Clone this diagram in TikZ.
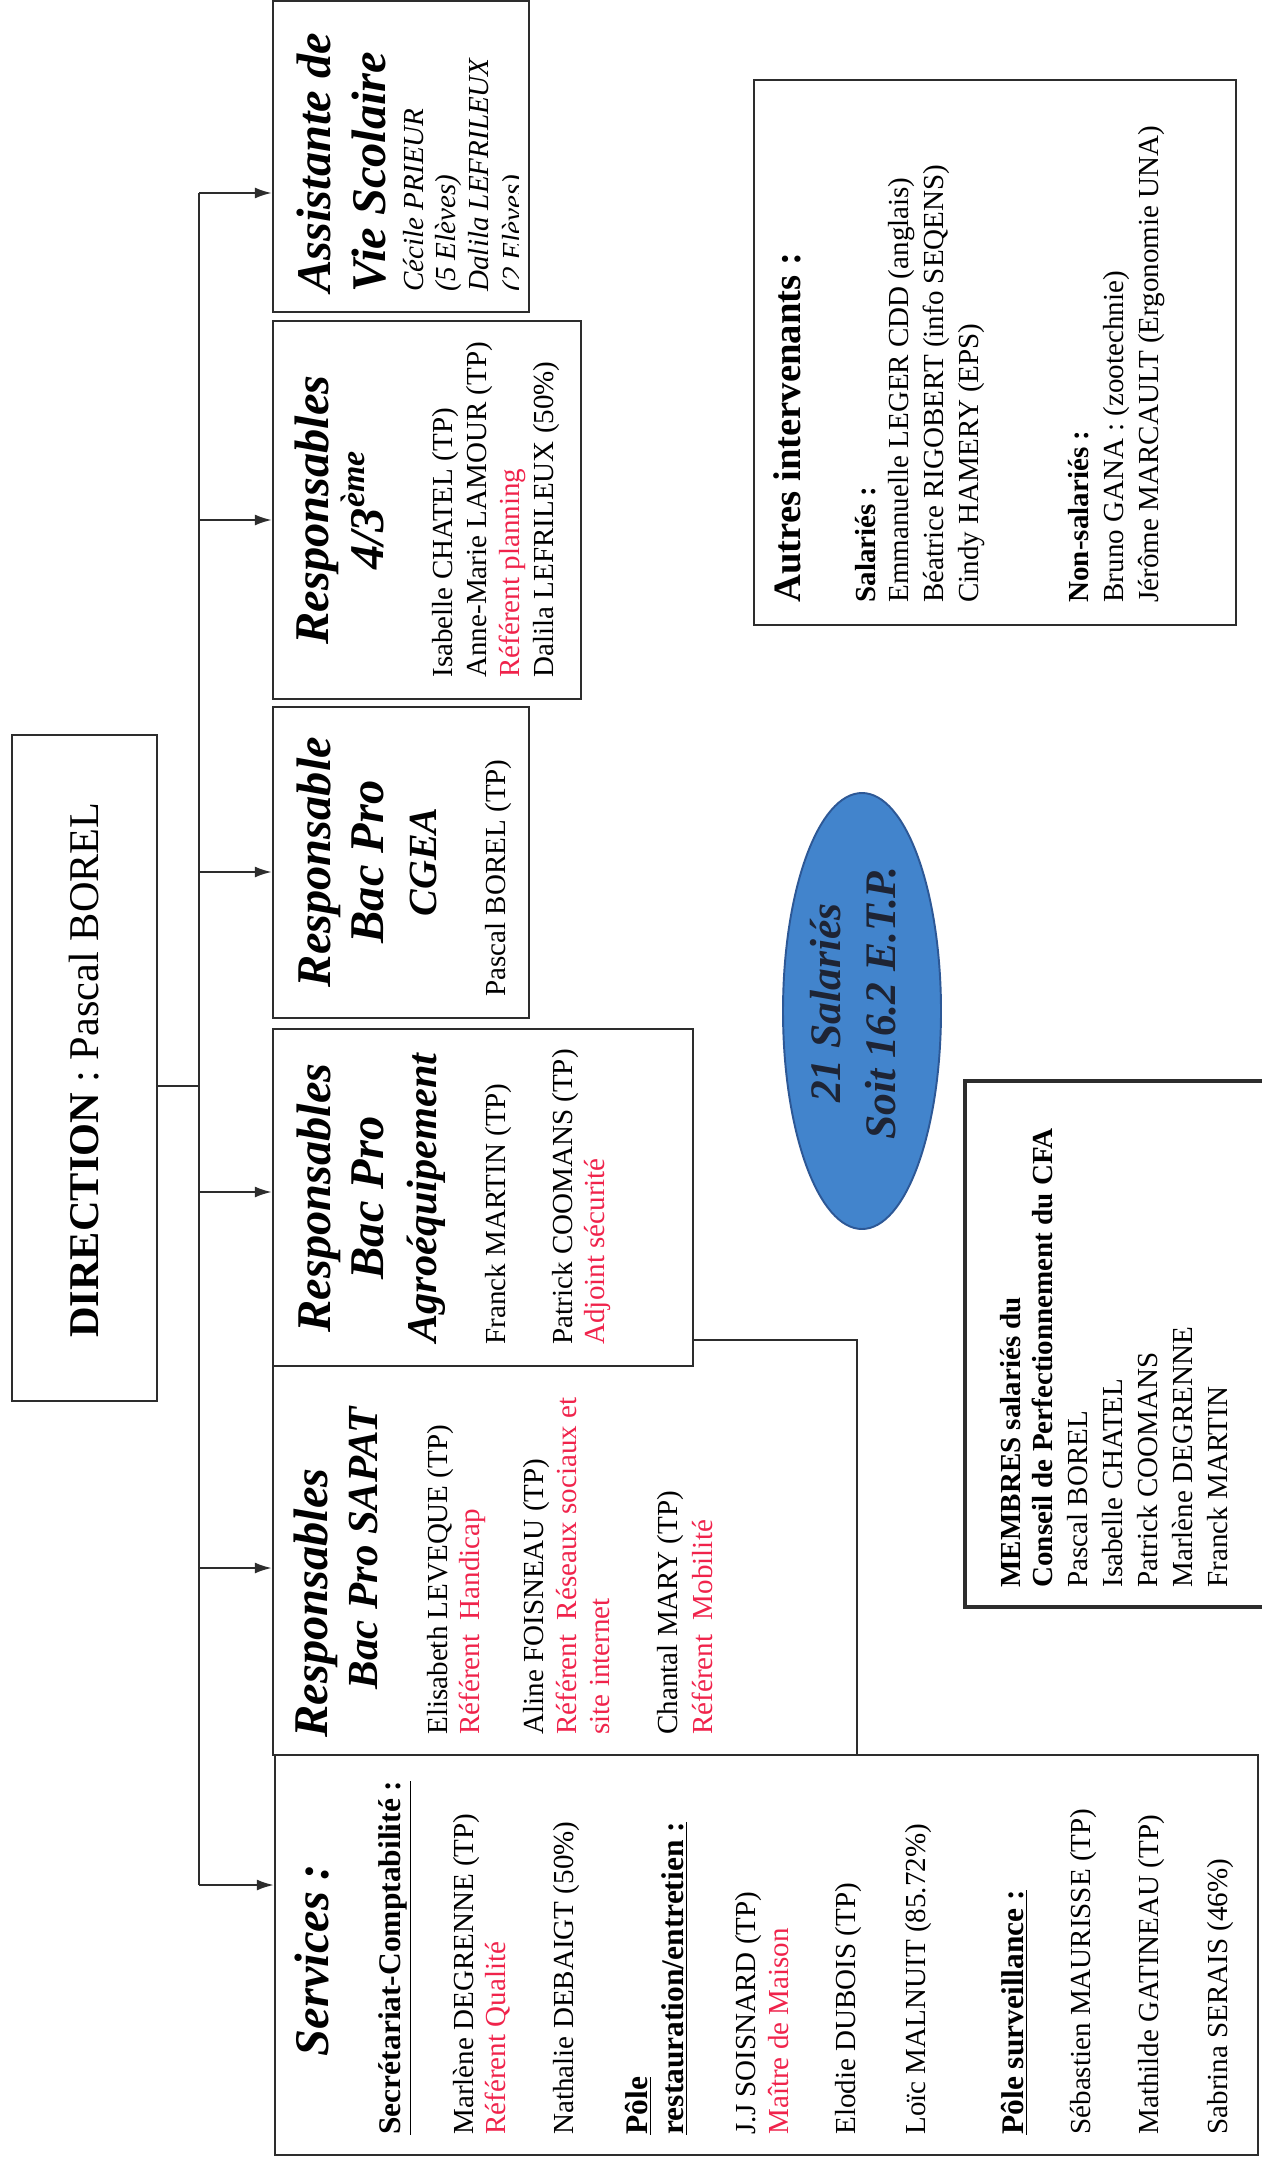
\documentclass[tikz,border=0pt]{standalone}
\usepackage{fontspec}
\setmainfont{Liberation Serif}
\usetikzlibrary{arrows.meta,shapes.geometric,fit}
\newlength\uu \setlength\uu{0.4132pt}
\definecolor{linec}{RGB}{45,45,45}
\definecolor{redt}{RGB}{240,35,75}
\definecolor{ellfill}{RGB}{66,132,204}
\definecolor{elldraw}{RGB}{45,88,150}
\definecolor{elltext}{RGB}{30,36,52}
\begin{document}
\begin{tikzpicture}[x=0.4132pt,y=-0.4132pt,
  box/.style={draw=linec, fill=white, line width=0.9pt, inner sep=0pt},
  thickbox/.style={draw=linec, fill=white, line width=1.8pt, inner sep=0pt},
  link/.style={draw=linec, line width=0.9pt},
  arr/.style={link, -{Latex[length=7pt,width=4.5pt]}},
  ln/.style={rotate=90, anchor=base west, inner sep=0pt, font=\fontsize{12}{14}\selectfont},
  lnc/.style={rotate=90, anchor=base, inner sep=0pt},
  ttl/.style={font=\bfseries\itshape\fontsize{20}{23}\selectfont},
  hd/.style={font=\bfseries\fontsize{13}{15}\selectfont},
  redtx/.style={text=redt},
]
\useasboundingbox (0,0) rectangle (1261,2166);
\fill[white] (0,0) rectangle (1261,2166);

% ---------- boxes ----------
\node[box, fit={(12,735) (157,1401)}] (dir) {};
\node[box, fit={(273,1) (529,312)}] (avs) {};
\node[box, fit={(273,321) (581,699)}] (qua) {};
\node[box, fit={(273,707) (529,1018)}] (cgea) {};
\node[box, fit={(273,1340) (857,1755)}] (sapat) {};
\node[box, fit={(273,1029) (693,1366)}] (agro) {};
\node[box, fit={(275,1755) (1258,2155)}] (serv) {};
\node[box, fit={(754,80) (1236,625)}] (autres) {};
\node[thickbox, fit={(965,1081) (1300,1607)}] (membres) {};
\node[ellipse, draw=elldraw, fill=ellfill, line width=0.8pt, inner sep=0pt,
      minimum width=158\uu, minimum height=436\uu] (ell) at (862,1011) {};

% ---------- connectors ----------
\coordinate (ja) at (199,193);
\coordinate (jb) at (199,520);
\coordinate (jc) at (199,872);
\coordinate (jd) at (199,1086);
\coordinate (je) at (199,1192);
\coordinate (jf) at (199,1568);
\coordinate (jg) at (199,1885);
\draw[link] (ja) -- (jg);
\draw[link] (jd -| dir.east) -- (jd);
\draw[arr] (ja) -- (ja -| avs.west);
\draw[arr] (jb) -- (jb -| qua.west);
\draw[arr] (jc) -- (jc -| cgea.west);
\draw[arr] (je) -- (je -| agro.west);
\draw[arr] (jf) -- (jf -| sapat.west);
\draw[arr] (jg) -- (jg -| serv.west);

% ---------- direction ----------
\node[lnc, font=\fontsize{17.5}{20}\selectfont] (dirt) at (98,1070) {\textbf{DIRECTION} : Pascal BOREL};

% ---------- AVS ----------
\begin{scope}
\clip (273,1) rectangle (518,312);
\node[ln,ttl] (avs1) at (330,293) {Assistante de};
\node[ln,ttl] (avs2) at (385,293) {Vie Scolaire};
\node[ln] (avs3) at (423,292) {\itshape Cécile PRIEUR};
\node[ln] (avs4) at (455,292) {\itshape (5 Elèves)};
\node[ln] (avs5) at (488,292) {\itshape Dalila LEFRILEUX};
\node[ln] (avs6) at (522,292) {\itshape (2 Elèves)};
\end{scope}

% ---------- 4/3 ----------
\node[lnc,ttl] (qua1) at (328,510) {Responsables};
\node[lnc,ttl] (qua2) at (383,510) {4/3\textsuperscript{ème}};
\node[ln] (qua3) at (452,678) {Isabelle CHATEL (TP)};
\node[ln] (qua4) at (486,678) {Anne-Marie LAMOUR (TP)};
\node[ln,redtx] (qua5) at (519,678) {Référent planning};
\node[ln] (qua6) at (553,678) {Dalila LEFRILEUX (50\%)};

% ---------- CGEA ----------
\node[lnc,ttl] (cg1) at (330,862) {Responsable};
\node[lnc,ttl] (cg2) at (383,862) {Bac Pro};
\node[lnc,ttl,font=\bfseries\itshape\fontsize{16.5}{20}\selectfont] (cg3) at (436,862) {CGEA};
\node[ln] (cg4) at (505,997) {Pascal BOREL (TP)};

% ---------- Agro ----------
\node[lnc,ttl] (ag1) at (330,1198) {Responsables};
\node[lnc,ttl] (ag2) at (383,1198) {Bac Pro};
\node[lnc,ttl,font=\bfseries\itshape\fontsize{17.5}{20}\selectfont] (ag3) at (436,1198) {Agroéquipement};
\node[ln] (ag4) at (505,1345) {Franck MARTIN (TP)};
\node[ln] (ag5) at (572,1345) {Patrick COOMANS (TP)};
\node[ln,redtx] (ag6) at (604,1345) {Adjoint sécurité};

% ---------- SAPAT ----------
\node[ln,ttl] (sa1) at (327,1738) {Responsables};
\node[ln,ttl,font=\bfseries\itshape\fontsize{17.7}{20}\selectfont] (sa2) at (377,1690) {Bac Pro SAPAT};
\node[ln] (sa3) at (447,1735) {Elisabeth LEVEQUE (TP)};
\node[ln,redtx] (sa4) at (479,1735) {Référent\ \ Handicap};
\node[ln] (sa5) at (543,1735) {Aline FOISNEAU (TP)};
\node[ln,redtx] (sa6) at (576,1735) {Référent\ \ Réseaux sociaux et};
\node[ln,redtx] (sa7) at (609,1735) {site internet};
\node[ln] (sa8) at (677,1735) {Chantal MARY (TP)};
\node[ln,redtx] (sa9) at (712,1735) {Référent\ \ Mobilité};

% ---------- Services ----------
\node[lnc,ttl] (sv1) at (328,1960) {Services :};
\node[ln,hd] (sv2) at (400,2135) {\underline{Secrétariat-Comptabilité :}};
\node[ln] (sv3) at (473,2135) {Marlène DEGRENNE (TP)};
\node[ln,redtx] (sv4) at (505,2135) {Référent Qualité};
\node[ln] (sv5) at (573,2135) {Nathalie DEBAIGT (50\%)};
\node[ln,hd] (sv6) at (647,2135) {\underline{Pôle}};
\node[ln,hd] (sv7) at (683,2135) {\underline{restauration/entretien :}};
\node[ln] (sv8) at (755,2135) {J.J SOISNARD (TP)};
\node[ln,redtx] (sv9) at (788,2135) {Maître de Maison};
\node[ln] (sv10) at (855,2135) {Elodie DUBOIS (TP)};
\node[ln] (sv11) at (925,2135) {Loïc MALNUIT (85.72\%)};
\node[ln,hd] (sv12) at (1023,2135) {\underline{Pôle surveillance :}};
\node[ln] (sv13) at (1090,2135) {Sébastien MAURISSE (TP)};
\node[ln] (sv14) at (1158,2135) {Mathilde GATINEAU (TP)};
\node[ln] (sv15) at (1227,2135) {Sabrina SERAIS (46\%)};

% ---------- Autres ----------
\node[ln, font=\bfseries\fontsize{16}{18}\selectfont] (au1) at (800,603) {Autres intervenants :};
\node[ln] (au2) at (875,603) {\textbf{Salariés :}};
\node[ln] (au3) at (908,603) {Emmanuelle LEGER CDD (anglais)};
\node[ln] (au4) at (943,603) {Béatrice RIGOBERT (info SEQENS)};
\node[ln] (au5) at (978,603) {Cindy HAMERY (EPS)};
\node[ln] (au6) at (1088,603) {\textbf{Non-salariés :}};
\node[ln] (au7) at (1123,603) {Bruno GANA : (zootechnie)};
\node[ln] (au8) at (1158,603) {Jérôme MARCAULT (Ergonomie UNA)};

% ---------- Ellipse ----------
\node[lnc, text=elltext, font=\bfseries\itshape\fontsize{18}{20}\selectfont] (el1) at (840,1003) {21 Salariés};
\node[lnc, text=elltext, font=\bfseries\itshape\fontsize{18}{20}\selectfont] (el2) at (895,1003) {Soit 16.2 E.T.P.};

% ---------- Membres ----------
\node[ln] (me1) at (1020,1588) {\textbf{MEMBRES salariés du}};
\node[ln] (me2) at (1052,1588) {\textbf{Conseil de Perfectionnement du CFA}};
\node[ln] (me3) at (1087,1588) {Pascal BOREL};
\node[ln] (me4) at (1122,1588) {Isabelle CHATEL};
\node[ln] (me5) at (1157,1588) {Patrick COOMANS};
\node[ln] (me6) at (1192,1588) {Marlène DEGRENNE};
\node[ln] (me7) at (1227,1588) {Franck MARTIN};
\end{tikzpicture}
\end{document}
